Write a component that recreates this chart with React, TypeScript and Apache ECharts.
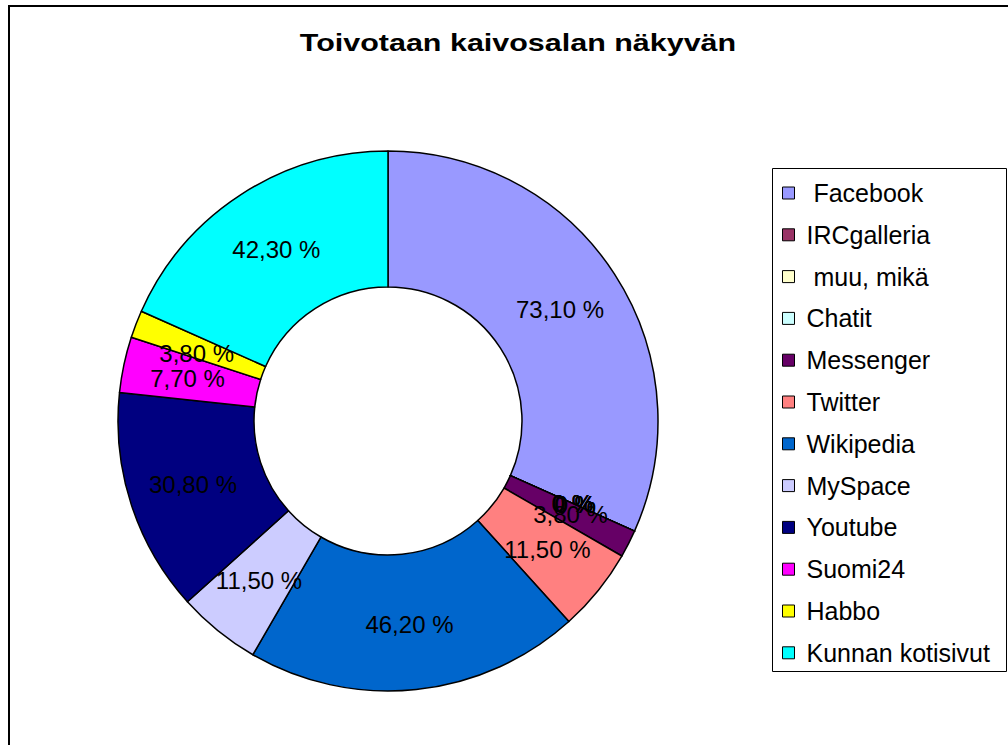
import React, { useEffect, useRef } from "react";
import * as echarts from "echarts";

const categories = [
  " Facebook",
  "IRCgalleria",
  " muu, mikä",
  "Chatit",
  "Messenger",
  "Twitter",
  "Wikipedia",
  "MySpace",
  "Youtube",
  "Suomi24",
  "Habbo",
  "Kunnan kotisivut",
];
const values = [73.1, 0, 0, 0, 3.8, 11.5, 46.2, 11.5, 30.8, 7.7, 3.8, 42.3];
const colors = [
  "#9999FF",
  "#993366",
  "#FFFFCC",
  "#CCFFFF",
  "#660066",
  "#FF8080",
  "#0066CC",
  "#CCCCFF",
  "#000080",
  "#FF00FF",
  "#FFFF00",
  "#00FFFF",
];
const title = "Toivotaan kaivosalan näkyvän";

const FONT = "'Liberation Sans', Arial, sans-serif";
const CX = 388;
const CY = 421;
const R0 = 134;
const R1 = 270;

function fmt(v: number): string {
  if (v === 0) return "0 %";
  return v.toFixed(2).replace(".", ",") + " %";
}

export default function App() {
  const ref = useRef<HTMLDivElement>(null);
  useEffect(() => {
    if (!ref.current) return;
    const chart = echarts.init(ref.current, undefined, { renderer: "svg" });
    const data = categories.map((name, i) => ({
      name,
      value: values[i],
      itemStyle: { color: colors[i] },
    }));
    const total = values.reduce((a, b) => a + b, 0);
    const zeroIdx = values
      .map((v, i) => (v === 0 ? i : -1))
      .filter((i) => i >= 0);
    chart.setOption({
      animation: false,
      backgroundColor: "#ffffff",
      graphic: [
        {
          type: "rect",
          shape: { x: 9, y: 6, width: 1100, height: 800 },
          style: { fill: "none", stroke: "#000", lineWidth: 2 },
          silent: true,
        },
        {
          type: "rect",
          shape: { x: 772.5, y: 168.5, width: 234, height: 503 },
          style: { fill: "#fff", stroke: "#000", lineWidth: 1 },
          silent: true,
          z: -1,
        },
        {
          type: "text",
          x: 518,
          y: 43,
          scaleX: 1.27,
          style: {
            text: title,
            fontFamily: FONT,
            fontSize: 24,
            fontWeight: "bold",
            fill: "#000",
            align: "center",
            verticalAlign: "middle",
          },
          silent: true,
        },
      ],
      legend: {
        orient: "vertical",
        left: 782,
        top: 180.5,
        itemWidth: 12,
        itemHeight: 12,
        itemGap: 16.8,
        padding: 0,
        icon: "rect",
        selectedMode: false,
        data: categories,
        itemStyle: { borderColor: "#000", borderWidth: 1 },
        textStyle: {
          fontFamily: FONT,
          fontSize: 25,
          lineHeight: 25,
          color: "#000",
          padding: [0, 0, 0, 7],
        },
      },
      series: [
        {
          type: "pie",
          center: [CX, CY],
          radius: [R0, R1],
          startAngle: 90,
          clockwise: true,
          avoidLabelOverlap: false,
          stillShowZeroSum: true,
          itemStyle: { borderColor: "#000", borderWidth: 1.5 },
          label: {
            show: true,
            position: "inside",
            fontFamily: FONT,
            fontSize: 24,
            color: "#000",
            formatter: (p: any) => fmt(p.value),
          },
          labelLayout: (p: any) =>
            p.dataIndex === 10 ? { dx: 0, dy: 6 } : {},
          labelLine: { show: false },
          emphasis: { disabled: true },
          data,
        },
        {
          type: "custom",
          coordinateSystem: "none",
          silent: true,
          z: 10,
          data: zeroIdx,
          renderItem: (params: any, api: any) => {
            const idx = api.value(0);
            let cum = 0;
            for (let k = 0; k < idx; k++) cum += values[k];
            const ang = (cum / total) * Math.PI * 2;
            const rm = (R0 + R1) / 2;
            return {
              type: "text",
              x: CX + Math.sin(ang) * rm,
              y: CY - Math.cos(ang) * rm,
              style: {
                text: fmt(values[idx]),
                fontFamily: FONT,
                fontSize: 24,
                fill: "#000",
                align: "center",
                verticalAlign: "middle",
              },
            };
          },
        },
      ],
    });
    return () => chart.dispose();
  }, []);
  return (
    <div
      ref={ref}
      style={{ position: "absolute", left: 0, top: 0, width: 1008, height: 745 }}
    />
  );
}
